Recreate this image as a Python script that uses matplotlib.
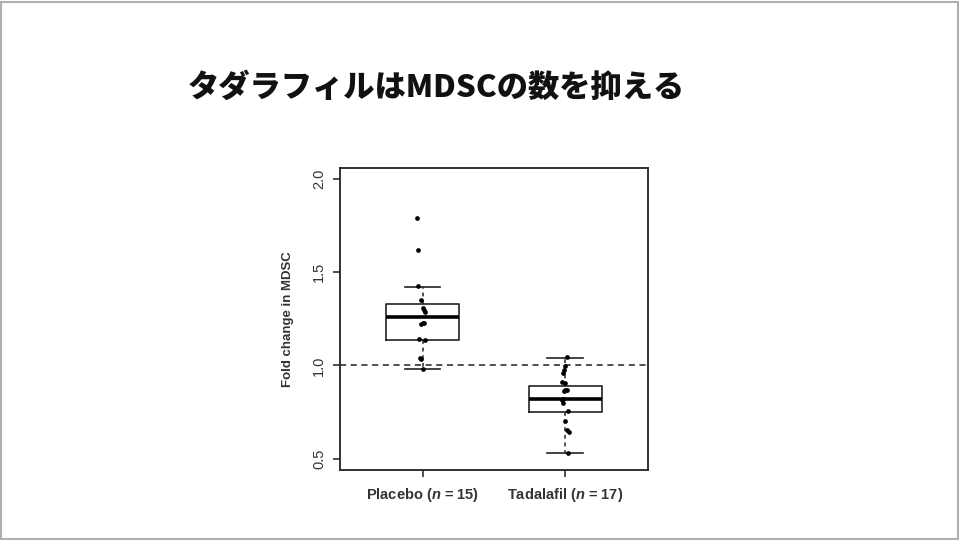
import numpy as np
import matplotlib
matplotlib.use('Agg')
import matplotlib.pyplot as plt
from matplotlib.patches import Rectangle

plt.rcParams['font.family'] = ['Liberation Sans', 'DejaVu Sans']
plt.rcParams['mathtext.fontset'] = 'custom'
plt.rcParams['mathtext.bfit'] = 'Liberation Sans:italic:bold'

# Title
title = 'タダラフィルはMDSCの数を抑える'

# Groups and labels
groups = ['Placebo', 'Tadalafil']
n_sizes = [15, 17]
ylabel = 'Fold change in MDSC'
yticks = [0.5, 1.0, 1.5, 2.0]

# Box statistics
whislo = [0.98, 0.53]
q1 = [1.135, 0.75]
med = [1.26, 0.82]
q3 = [1.33, 0.89]
whishi = [1.42, 1.04]

# Individual points (values and small horizontal jitter)
placebo_vals = [1.79, 1.62, 1.425, 1.35, 1.31, 1.295, 1.285, 1.23, 1.225,
                1.14, 1.135, 1.04, 1.035, 0.98, 1.23]
placebo_jit = [-0.04, -0.03, -0.03, -0.01, 0.0, 0.01, 0.02, 0.005, -0.01,
               -0.025, 0.02, -0.015, -0.01, 0.0, 0.01]
tadalafil_vals = [1.048, 0.995, 0.977, 0.96, 0.91, 0.906, 0.87, 0.861, 0.82,
                  0.816, 0.80, 0.757, 0.704, 0.656, 0.643, 0.531, 0.87]
tadalafil_jit = [0.01, -0.005, -0.01, -0.015, -0.02, 0.0, 0.01, -0.01, -0.015,
                 -0.02, -0.015, 0.02, -0.005, 0.015, 0.025, 0.02, 0.0]

fig = plt.figure(figsize=(9.6, 5.4), dpi=100)

# slide border
fig.patches.append(Rectangle((0.001, 0.002), 0.997, 0.995, transform=fig.transFigure,
                             fill=False, edgecolor='#b0b0b0', linewidth=1.5))

fig.text(0.455, 0.838, title, ha='center', va='center', fontsize=22.5,
         fontweight='heavy', family=['Noto Sans CJK JP', 'DejaVu Sans'], color='#111111')

ax = fig.add_axes([0.354, 0.130, 0.321, 0.559])

stats = []
for i in range(len(groups)):
    stats.append(dict(whislo=whislo[i], q1=q1[i], med=med[i], q3=q3[i],
                      whishi=whishi[i], fliers=[]))

ink = '#222222'
ax.bxp(stats, positions=[1, 2], widths=0.51, showfliers=False,
       boxprops=dict(color=ink, linewidth=1.2),
       medianprops=dict(color='black', linewidth=2.6),
       whiskerprops=dict(color=ink, linewidth=1.1, linestyle=(0, (2.5, 2.5))),
       capprops=dict(color=ink, linewidth=1.2),
       capwidths=0.25)

ax.axhline(1.0, color=ink, linewidth=1.1, linestyle=(0, (4, 3)), zorder=1)

pts = [(placebo_vals, placebo_jit), (tadalafil_vals, tadalafil_jit)]
for i, (vals, jit) in enumerate(pts):
    ax.plot(np.array(jit) + (i + 1), vals, 'o', color='black', markersize=3.4,
            markeredgewidth=0, zorder=5)

ax.set_xlim(0.42, 2.58)
ax.set_ylim(0.44, 2.06)
ax.set_yticks(yticks)
ax.set_yticklabels([f'{v:.1f}' for v in yticks], rotation=90, va='center',
                   fontsize=10.5, color='#333333')
ax.set_xticks([1, 2])
ax.set_xticklabels([f'{g} ($\\mathbfit{{n}}$ = {n})' for g, n in zip(groups, n_sizes)],
                   fontsize=10.5, fontweight='bold', color='#333333')
ax.tick_params(axis='both', direction='out', length=5, width=1.1, color=ink, pad=5)
ax.tick_params(axis='x', pad=7)
ax.set_ylabel(ylabel, fontsize=9.5, fontweight='bold', color='#333333', labelpad=13)
for s in ax.spines.values():
    s.set_linewidth(1.3)
    s.set_color(ink)

fig.savefig('out.png', dpi=100)
